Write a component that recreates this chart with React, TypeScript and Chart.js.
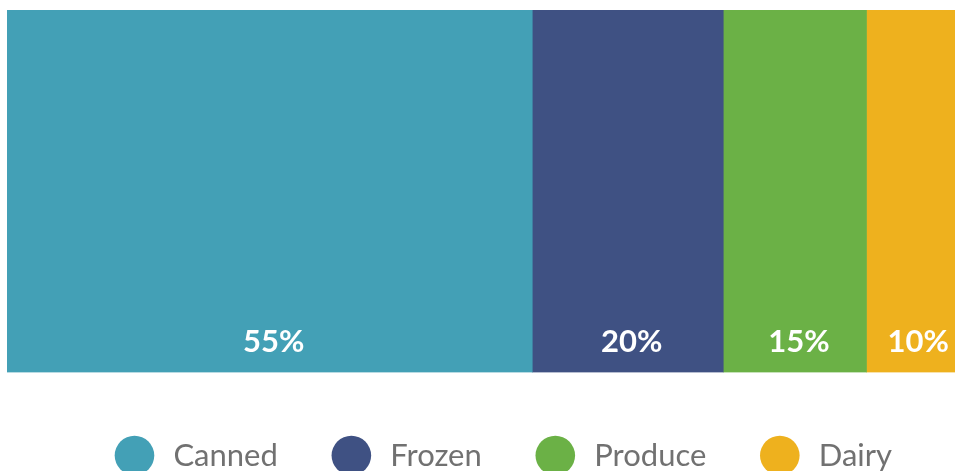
import React, { useEffect, useRef } from "react";
import { Chart, registerables } from "chart.js";

Chart.register(...registerables);

const categories = ["Canned", "Frozen", "Produce", "Dairy"];
const shares = [55, 20, 15, 10];
const colors = ["#43A0B6", "#3F5183", "#6BB146", "#EEB11E"];
const valueLabels = ["55%", "20%", "15%", "10%"];

const segmentLabels = {
  id: "segmentLabels",
  afterDatasetsDraw(chart: any) {
    const ctx = chart.ctx;
    ctx.save();
    ctx.fillStyle = "#ffffff";
    ctx.font = "bold 31px Lato";
    ctx.textAlign = "center";
    ctx.textBaseline = "middle";
    chart.data.datasets.forEach((ds: any, i: number) => {
      const meta = chart.getDatasetMeta(i);
      const el: any = meta.data[0];
      if (!el) return;
      const cx = (el.x + el.base) / 2 + 4;
      const bottom = el.y + el.height / 2;
      ctx.fillText(valueLabels[i], cx, bottom - 30);
    });
    ctx.restore();
  },
};

const legendShift = {
  id: "legendShift",
  afterLayout(chart: any) {
    const lg = chart.legend;
    if (lg) {
      lg.left += 21;
      lg.right += 21;
    }
  },
};

export default function App() {
  const ref = useRef<HTMLCanvasElement | null>(null);
  useEffect(() => {
    if (!ref.current) return;
    const chart = new Chart(ref.current, {
      type: "bar",
      data: {
        labels: ["Share"],
        datasets: categories.map((c, i) => ({
          label: c,
          data: [shares[i]],
          backgroundColor: colors[i],
          borderWidth: 0,
          barPercentage: 1,
          categoryPercentage: 1,
        })),
      },
      options: {
        indexAxis: "y",
        animation: false,
        responsive: true,
        maintainAspectRatio: false,
        layout: { padding: { left: 7, top: 10, right: 38, bottom: 0 } },
        scales: {
          x: { stacked: true, display: false, min: 0, max: 100 },
          y: { stacked: true, display: false },
        },
        plugins: {
          tooltip: { enabled: false },
          legend: {
            position: "bottom",
            title: { display: true, text: "", font: { size: 8 }, padding: 0 },
            labels: {
              usePointStyle: true,
              pointStyle: "circle",
              boxWidth: 31,
              boxHeight: 28,
              padding: 58,
              color: "#717171",
              font: { family: "Lato", size: 31 },
              generateLabels: (chart: any) => {
                const items = Chart.defaults.plugins.legend.labels.generateLabels(chart);
                return items.map((it: any) => ({ ...it, text: " " + it.text }));
              },
            },
          },
        },
      },
      plugins: [segmentLabels, legendShift],
    });
    return () => chart.destroy();
  }, []);
  return (
    <div style={{ position: "absolute", left: 0, top: 0, width: 955, height: 471, overflow: "hidden", background: "#fff" }}>
      <div style={{ position: "relative", width: 1000, height: 481 }}>
        <canvas ref={ref} />
      </div>
    </div>
  );
}
